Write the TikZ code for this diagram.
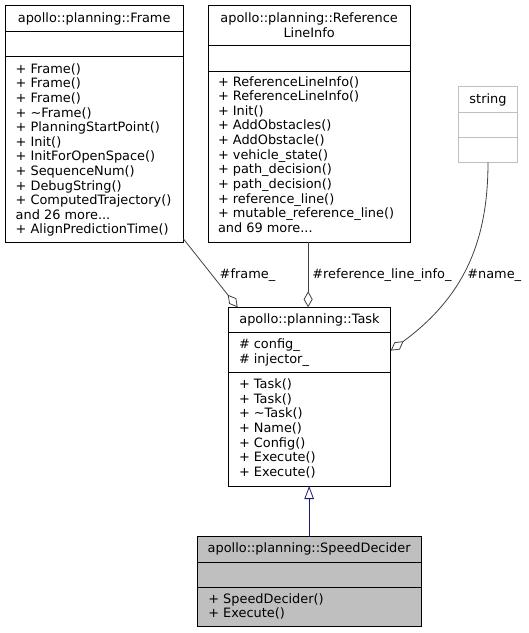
\documentclass[tikz,border=0pt]{standalone}
\usepackage{fontspec}
\setmainfont{DejaVu Sans}
\usetikzlibrary{arrows.meta}
\definecolor{edgegray}{HTML}{404040}
\definecolor{boxgray}{HTML}{BFBFBF}
\definecolor{inhblue}{HTML}{191970}
\newcommand\mydots{...}
\tikzset{
  every node/.style={font=\fontsize{12.9}{14.6}\selectfont, inner sep=0pt, outer sep=0pt},
  umlbox/.style={draw=black, line width=0.9pt, rectangle, anchor=north west},
  txt/.style={anchor=base west},
  ttl/.style={anchor=base},
  agg/.style={draw=edgegray, line width=0.8pt, -{Diamond[open, length=16pt, width=9pt]}},
  inh/.style={draw=inhblue, line width=0.8pt, -{Triangle[open, length=13pt, width=9.5pt]}},
  sep/.style={draw=black, line width=0.9pt},
}
\begin{document}
\begin{tikzpicture}[x=1pt,y=-1pt]
\useasboundingbox (0,0) rectangle (529,633);

% boxes
\node[umlbox, minimum width=178.3pt, minimum height=237.4pt] (frame) at (5,5.3) {};
\node[umlbox, minimum width=201.7pt, minimum height=237pt] (refl) at (208.3,5.3) {};
\node[umlbox, draw=boxgray, minimum width=58.6pt, minimum height=75.6pt] (str) at (458.7,86.7) {};
\node[umlbox, minimum width=162.4pt, minimum height=178.7pt] (task) at (228.3,307.3) {};
\node[umlbox, fill=boxgray, minimum width=223.7pt, minimum height=90pt] (speed) at (197.3,536.7) {};

% separators
\draw[sep] (frame.west |- 0,31.5) -- (frame.east |- 0,31.5);
\draw[sep] (frame.west |- 0,56.5) -- (frame.east |- 0,56.5);
\draw[sep] (refl.west |- 0,45.7) -- (refl.east |- 0,45.7);
\draw[sep] (refl.west |- 0,71) -- (refl.east |- 0,71);
\draw[sep, draw=boxgray] (str.west |- 0,112.3) -- (str.east |- 0,112.3);
\draw[sep, draw=boxgray] (str.west |- 0,137) -- (str.east |- 0,137);
\draw[sep] (task.west |- 0,332.7) -- (task.east |- 0,332.7);
\draw[sep] (task.west |- 0,372.3) -- (task.east |- 0,372.3);
\draw[sep] (speed.west |- 0,562) -- (speed.east |- 0,562);
\draw[sep] (speed.west |- 0,587.3) -- (speed.east |- 0,587.3);

% titles
\node[ttl] (frameT) at (frame.center |- 0,22.7) {apollo::planning::Frame};
\node[ttl] (reflT1) at (refl.center |- 0,22.7) {apollo::planning::Reference};
\node[ttl] (reflT2) at (refl.center |- 0,37.3) {LineInfo};
\node[ttl] (strT) at (str.center |- 0,103) {string};
\node[ttl] (taskT) at (task.center |- 0,323) {apollo::planning::Task};
\node[ttl] (speedT) at (speed.center |- 0,552.6) {apollo::planning::SpeedDecider};

% members
\foreach \t [count=\i] in {+ Frame(), + Frame(), + Frame(), + \textasciitilde Frame(),
  + PlanningStartPoint(), + Init(), + InitForOpenSpace(), + SequenceNum(),
  + DebugString(), + ComputedTrajectory(), and 26 more\mydots, + AlignPredictionTime()}
  \node[txt] (fm\i) at (15.7, 58.7+14.6*\i) {\t};

\foreach \t [count=\i] in {+ ReferenceLineInfo(), + ReferenceLineInfo(), + Init(),
  + AddObstacles(), + AddObstacle(), + vehicle\_state(), + path\_decision(),
  + path\_decision(), + reference\_line(), + mutable\_reference\_line(), and 69 more\mydots}
  \node[txt] (rm\i) at (218, 71.35+14.65*\i) {\t};

\foreach \t [count=\i] in {\# config\_, \# injector\_}
  \node[txt] (ta\i) at (239, 334+14.6*\i) {\t};

\foreach \t [count=\i] in {+ Task(), + Task(), + \textasciitilde Task(), + Name(),
  + Config(), + Execute(), + Execute()}
  \node[txt] (tm\i) at (239, 374+14.6*\i) {\t};

\foreach \t [count=\i] in {+ SpeedDecider(), + Execute()}
  \node[txt] (sm\i) at (208.3, 588.7+14.6*\i) {\t};

% connectors
\draw[agg] ([yshift=4pt]frame.south east) -- ([xshift=9.4pt]task.north west);
\draw[agg] ([xshift=-1pt]refl.south) -- ([xshift=-1pt]refl.south |- task.north);
\draw[agg] (str.south) .. controls (488,240) and (465,296) .. ([yshift=46pt]task.east);
\draw[inh] (speed.north) -- (speed.north |- task.south);

% edge labels
\node[txt] (lframe) at (219.7,278.3) {\#frame\_};
\node[txt] (lrefl) at (312.3,278.3) {\#reference\_line\_info\_};
\node[txt] (lname) at (467.3,278.3) {\#name\_};
\end{tikzpicture}
\end{document}
